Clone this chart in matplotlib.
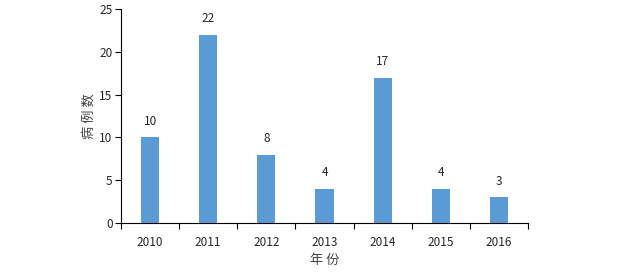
import matplotlib
matplotlib.use('Agg')
from matplotlib import pyplot as plt
import numpy as np

plt.rcParams['font.family'] = ['Noto Sans CJK SC', 'DejaVu Sans']

years = ['2010', '2011', '2012', '2013', '2014', '2015', '2016']
cases = [10, 22, 8, 4, 17, 4, 3]

bar_color = '#5B9BD5'
text_color = '#262626'

fig = plt.figure(figsize=(6.19, 2.74), dpi=100)
ax = fig.add_axes([0.1955, 0.186, 0.6575, 0.781])

x = np.arange(len(years))
ax.bar(x, cases, width=0.31, color=bar_color)
for xi, v in zip(x, cases):
    ax.text(xi, v + 1.1, str(v), ha='center', va='bottom', fontsize=8.5, color=text_color)

ax.set_xlim(-0.5, len(years) - 0.5)
ax.set_ylim(0, 25)
ax.set_yticks([0, 5, 10, 15, 20, 25])
ax.set_xticks(x)
ax.set_xticklabels(years)
ax.set_xticks(np.arange(-0.5, len(years)), minor=True)
ax.tick_params(axis='x', which='major', length=0, pad=9, labelsize=8.5, labelcolor=text_color)
ax.tick_params(axis='x', which='minor', length=4, width=0.8, direction='out')
ax.tick_params(axis='y', length=4, width=0.8, labelsize=8.5, labelcolor=text_color, pad=2)

for side in ['top', 'right']:
    ax.spines[side].set_visible(False)
for side in ['left', 'bottom']:
    ax.spines[side].set_linewidth(0.8)
    ax.spines[side].set_color('black')

ax.set_xlabel('年 份', fontsize=9.5, color='#404040', labelpad=4)
ax.set_ylabel('病 例 数', fontsize=9.5, color='#404040', labelpad=3)

fig.savefig('out.png', dpi=100)
